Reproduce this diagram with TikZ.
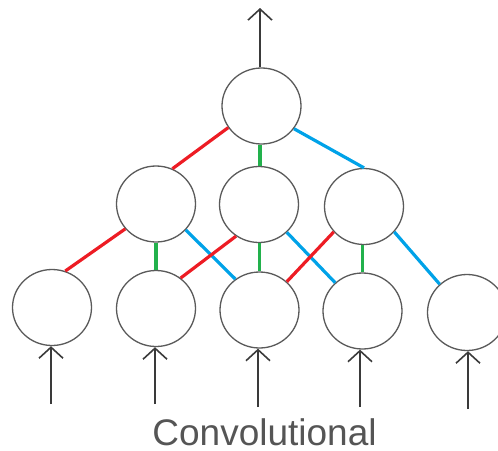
\documentclass[tikz,border=0pt]{standalone}
\usepackage{fontspec}
\setmainfont{Liberation Sans}
\usetikzlibrary{shapes.geometric,arrows.meta}
\definecolor{wred}{HTML}{ED1C24}
\definecolor{wgreen}{HTML}{22B14C}
\definecolor{wblue}{HTML}{00A2E8}
\definecolor{ring}{HTML}{5A5A5A}
\definecolor{arrowgray}{HTML}{3A3A3A}
\definecolor{labelgray}{HTML}{555555}
\begin{document}
\begin{tikzpicture}[x=1pt,y=-1pt,
  unit/.style={ellipse,draw=ring,line width=1.3pt,fill=white,
    minimum width=79pt,minimum height=76pt,inner sep=0pt},
  wire/.style={line width=3.2pt},
  flow/.style={draw=arrowgray,line width=1.6pt,
    -{Straight Barb[length=11pt,width=24pt,line width=1.6pt]}}]
\useasboundingbox (0,0) rectangle (498,450);
\begin{scope}
\clip (0,0) rectangle (498,450);
% output unit
\node[unit] (top) at (261.5,106) {};
% hidden layer
\node[unit] (m1) at (156,204) {};
\node[unit] (m2) at (259,204.5) {};
\node[unit] (m3) at (364,206.5) {};
% input layer
\node[unit] (b1) at (52,307.5) {};
\node[unit] (b2) at (156,308.5) {};
\node[unit] (b3) at (259.5,310) {};
\node[unit] (b4) at (362.5,311) {};
\node[unit] (b5) at (467,312.5) {};

% shared kernel weights: red = left, green = centre, blue = right
\draw[wire,wred]   (top.213) -- (m1.65);
\draw[wire,wgreen] ([xshift=-1.5pt]top.south) -- ([xshift=1pt]m2.north);
\draw[wire,wblue]  (top.325) -- (m3.north);

\draw[wire,wred]   (m1.219) -- (b1.70);
\draw[wire,wgreen] (b2.north |- m1.south) -- (b2.north);
\draw[wire,wblue]  (m1.319) -- (b3.128);

\draw[wire,wred]   (m2.234) -- (b2.51);
\draw[wire,wgreen] (b3.north |- m2.south) -- (b3.north);
\draw[wire,wblue]  (m2.315) -- (b4.134);

\draw[wire,wred]   (m3.220) -- (b3.46);
\draw[wire,wgreen] (b4.north |- m3.south) -- (b4.north);
\draw[wire,wblue]  (m3.320) -- (b5.134);

% output arrow
\coordinate (out) at (260,8);
\draw[flow] ([xshift=-1.5pt]top.north) -- (out);

% input arrows
\coordinate (i1) at (51,404);
\coordinate (i2) at (155,404);
\coordinate (i3) at (258,407);
\coordinate (i4) at (360,407);
\coordinate (i5) at (468,409);
\draw[flow] (i1) -- (i1 |- b1.south);
\draw[flow] (i2) -- (i2 |- b2.south);
\draw[flow] (i3) -- (i3 |- b3.south);
\draw[flow] (i4) -- (i4 |- b4.south);
\draw[flow] (i5) -- (i5 |- b5.south);
\end{scope}

\node[anchor=base,text=labelgray,font=\fontsize{37pt}{40pt}\selectfont,
  inner sep=0pt,text depth=0pt]
  (caption) at (264.5,445) {Convolutional};
\end{tikzpicture}
\end{document}
